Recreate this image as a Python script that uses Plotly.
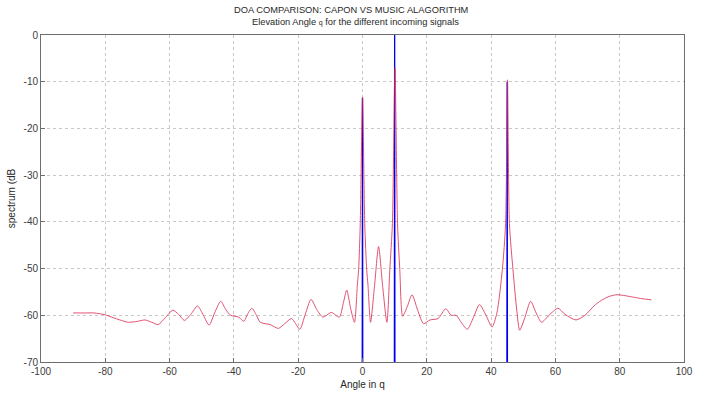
import plotly.graph_objects as go

# Capon spectrum (red)
capon_angle = [-90, -86, -83.5, -80, -78, -75, -72.8, -70, -67.7, -65.5, -63.6, -61.3, -59, -57.2,
               -55.4, -53.4, -51.3, -49.5, -47.7, -46, -44.1, -42.5, -41, -38.5, -36.9, -35.8, -34.4,
               -33, -31.8, -28.7, -26.2, -24.2, -22.1, -20.8, -19.5, -17.8, -16, -14.2, -12.3, -9.7,
               -7.2, -6, -4.9, -3.7, -2.5, -1.6, -1.2, -0.7, 0, 0.7, 1.3, 1.7, 2.5, 3.7, 5, 6.3, 7.6,
               8.5, 9.3, 10.1, 10.9, 11.6, 12.5, 14, 15.4, 17.2, 19, 21, 23.5, 25.9, 27.6, 29.1, 31,
               32.6, 34.5, 36.4, 38.4, 40.3, 41.8, 43.5, 44.5, 45.1, 45.7, 46.8, 48, 48.9, 50.5, 52.3,
               54, 55.7, 58, 60.8, 63, 66.4, 69.2, 72, 74.3, 77, 79.3, 83.3, 86.5, 89.9]
capon_db = [-59.5, -59.5, -59.5, -59.9, -60.4, -61.1, -61.5, -61.3, -61.0, -61.5, -62.0, -60.5, -58.9, -59.8,
            -61.1, -59.8, -58.0, -60.0, -62.1, -59.5, -57.0, -58.8, -60.0, -60.4, -61.3, -59.8, -58.5,
            -60.0, -61.5, -62.0, -62.8, -61.8, -60.7, -61.8, -63.0, -59.8, -56.6, -58.8, -60.4, -59.4,
            -60.4, -57.5, -54.6, -58.5, -61.5, -53.5, -50.2, -40.4, -13.3, -40.4, -50.2, -53.5, -61.5, -54.0, -45.3, -54.0, -61.5,
            -50.2, -40.4, -7.0, -40.4, -50.2, -60.2, -58.0, -55.6, -59.0, -61.8, -61.0, -60.7, -58.6, -60.0, -60.0, -61.8,
            -63.0, -60.5, -57.7, -60.0, -62.5, -59.5, -50.2, -40.4, -9.6, -40.4, -50.2, -59.0, -63.2, -60.5, -57.0,
            -59.5, -61.5, -60.0, -58.5, -59.8, -61.0, -60.0, -58.0, -56.8, -55.9, -55.6, -56.0, -56.4, -56.7]

# MUSIC spectrum (blue): sharp spikes, floor below the visible range
music_angle = [-90, -0.1, 0, 0.1, 9.9, 10, 10.1, 44.9, 45, 45.1, 90]
music_db = [-85, -85, -13.5, -85, -85, 0, -85, -85, -10, -85, -85]

x_ticks = [-100, -80, -60, -40, -20, 0, 20, 40, 60, 80, 100]
y_ticks = [-70, -60, -50, -40, -30, -20, -10, 0]

fig = go.Figure()
fig.add_trace(go.Scatter(x=music_angle, y=music_db, mode="lines",
                         line=dict(color="rgb(0,0,235)", width=1.3), name="MUSIC"))
fig.add_trace(go.Scatter(x=capon_angle, y=capon_db, mode="lines",
                         line=dict(color="rgb(220,40,80)", width=1, shape="spline", smoothing=0.7),
                         opacity=0.8, name="CAPON"))

font = "Liberation Sans, Arial, sans-serif"
axis_common = dict(showline=True, mirror=True, linecolor="rgb(110,110,110)", linewidth=1,
                   showgrid=True, gridcolor="rgb(200,200,200)", griddash="dot", gridwidth=1,
                   zeroline=False, ticks="inside", ticklen=4, tickcolor="rgb(110,110,110)",
                   tickfont=dict(family=font, size=10, color="rgb(60,60,60)"))

fig.update_layout(
    width=701, height=396,
    margin=dict(l=41, r=8, t=35, b=29),
    paper_bgcolor="white", plot_bgcolor="white",
    showlegend=False,
    font=dict(family=font, size=10, color="rgb(40,40,40)"),
    xaxis=dict(range=[-100, 100], tickvals=x_ticks, ticktext=[str(v) for v in x_ticks],
               title=dict(text="Angle in q", font=dict(size=10), standoff=4), **axis_common),
    yaxis=dict(range=[-70, 0], tickvals=y_ticks, ticktext=[str(v) for v in y_ticks],
               title=dict(text="spectrum (dB", font=dict(size=10), standoff=6), **axis_common),
)
fig.add_annotation(text="DOA COMPARISON: CAPON VS MUSIC ALAGORITHM", xref="paper", yref="paper",
                   x=(355 - 41) / 652, y=1, yanchor="middle", yshift=25, showarrow=False,
                   font=dict(size=9.3, family=font, color="rgb(40,40,40)"))
fig.add_annotation(text="Elevation Angle <span style='font-size:7px'>q</span> for the different incoming signals",
                   xref="paper", yref="paper", x=(360 - 41) / 652, y=1, yanchor="middle", yshift=13,
                   showarrow=False, font=dict(size=9.3, family=font, color="rgb(40,40,40)"))

fig.write_html("out.html")
